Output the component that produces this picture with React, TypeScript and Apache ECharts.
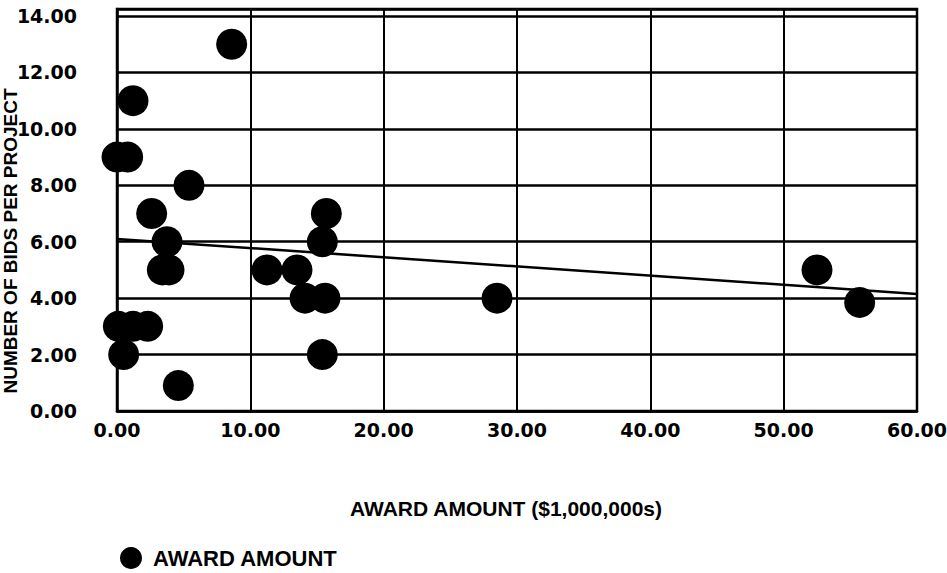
import React, { useEffect, useRef } from "react";
import * as echarts from "echarts";

const awardAmount = [8.6, 1.2, 0, 0.8, 5.4, 2.6, 15.7, 3.75, 15.4, 3.4, 3.9, 11.25, 13.5, 14.1, 15.6, 0.1, 1.2, 2.3, 0.5, 4.6, 15.4, 28.5, 52.5, 55.7];
const bidsPerProject = [13, 11, 9, 9, 8, 7, 7, 6, 6, 5, 5, 5, 5, 4, 4, 3, 3, 3, 2, 0.9, 2, 4, 5, 3.85];
const trendX = [0, 60];
const trendY = [6.1, 4.15];
const seriesName = "AWARD AMOUNT";
const xTitle = "AWARD AMOUNT ($1,000,000s)";
const yTitle = "NUMBER OF BIDS PER PROJECT";

export default function App() {
  const ref = useRef<HTMLDivElement>(null);
  useEffect(() => {
    if (!ref.current) return;
    const chart = echarts.init(ref.current, null, { renderer: "svg" });
    const tickFont = { fontFamily: "DejaVu Sans", fontWeight: "bold", fontSize: 19, color: "#000" };
    const nameFont = { fontFamily: "Liberation Sans", fontWeight: "bold", fontSize: 19, color: "#000" };
    chart.setOption({
      animation: false,
      backgroundColor: "#fff",
      grid: {
        left: 117, right: 30, top: 9, bottom: 162,
        containLabel: false, outerBoundsMode: "none",
        show: true, borderColor: "#000", borderWidth: 2.5,
      },
      legend: {
        left: 115,
        top: 542,
        icon: "circle",
        itemWidth: 22,
        itemHeight: 22,
        data: [seriesName],
        textStyle: { ...nameFont, fontSize: 22, padding: [0, 0, 0, 6] },
      },
      xAxis: {
        type: "value",
        min: 0,
        max: 60,
        interval: 10,
        name: xTitle,
        nameLocation: "middle",
        nameGap: 87,
        nameMoveOverlap: false,
        nameTextStyle: { ...nameFont, fontSize: 21, padding: [0, 22, 0, 0] },
        axisLine: { show: true, lineStyle: { color: "#000", width: 2.5 } },
        axisTick: { show: false },
        axisLabel: { ...tickFont, margin: 9, formatter: (v: number) => v.toFixed(2) },
        splitLine: { show: true, lineStyle: { color: "#000", width: 2 } },
      },
      yAxis: {
        type: "value",
        min: 0,
        max: 14.25,
        interval: 2,
        name: yTitle,
        nameLocation: "middle",
        nameGap: 97,
        nameRotate: 90,
        nameMoveOverlap: false,
        nameTextStyle: { ...nameFont, padding: [0, 62, 0, 0] },
        axisLine: { show: true, lineStyle: { color: "#000", width: 2.5 } },
        axisTick: { show: false },
        axisLabel: { ...tickFont, margin: 40, showMaxLabel: false, formatter: (v: number) => v.toFixed(2) },
        splitLine: { show: true, lineStyle: { color: "#000", width: 2.5 } },
      },
      series: [
        {
          name: seriesName,
          type: "scatter",
          symbol: "circle",
          symbolSize: 31,
          itemStyle: { color: "#000", opacity: 1 },
          data: awardAmount.map((x, i) => [x, bidsPerProject[i]]),
          z: 3,
        },
        {
          name: "trend",
          type: "line",
          showSymbol: false,
          symbol: "none",
          lineStyle: { color: "#000", width: 2.5 },
          data: trendX.map((x, i) => [x, trendY[i]]),
          z: 2,
        },
      ],
    });
    return () => chart.dispose();
  }, []);
  return <div ref={ref} style={{ width: 947, height: 573, position: "absolute", left: 0, top: 0 }} />;
}
